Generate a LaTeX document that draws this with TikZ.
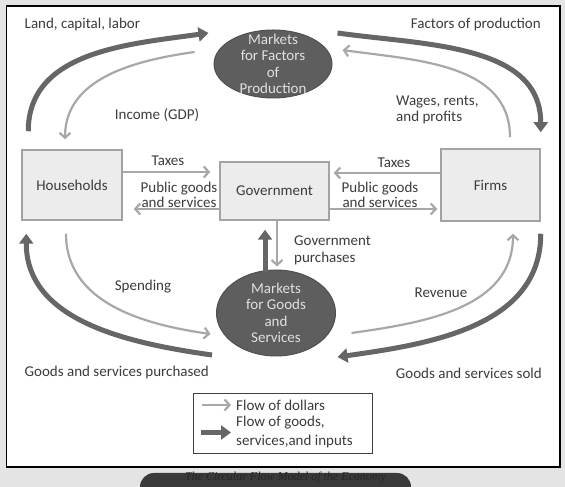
\documentclass[tikz,border=0pt]{standalone}
\usepackage{fontspec}
\setmainfont{Carlito}
\newfontfamily\bildtitel{Liberation Serif}
\usepackage{tikz}
\usetikzlibrary{arrows.meta,shapes.geometric}
\definecolor{textgrau}{HTML}{3C3C3C}
\definecolor{dollargrau}{HTML}{A8A8A8}
\definecolor{gutgrau}{HTML}{666666}
\definecolor{marktgrau}{HTML}{5E5E5E}
\definecolor{boxgrau}{HTML}{ECECEC}
\definecolor{randgrau}{HTML}{A3A3A3}
\definecolor{hintergrund}{HTML}{E4E4E4}
\definecolor{leiste}{HTML}{3A3A3A}
\tikzset{
  sector/.style={rectangle, draw=randgrau, line width=1.5pt, fill=boxgrau, text=textgrau, font=\fontsize{15}{16}\selectfont, minimum width=100pt, minimum height=70pt, inner sep=0pt},
  market/.style={ellipse, draw=marktgrau!85!black, line width=1pt, fill=marktgrau, minimum width=118pt, minimum height=68pt, inner sep=0pt},
  markettext/.style={text=white!88!black, align=center, font=\fontsize{15}{16.5}\selectfont, inner sep=0pt},
  lbl/.style={text=textgrau, font=\fontsize{15}{16}\selectfont, inner sep=0pt},
  dollarflow/.style={draw=dollargrau, line width=2.2pt, -{Straight Barb[length=5pt,width=11pt]}},
  goodsflow/.style={draw=gutgrau, line width=5pt, -{Triangle[length=10pt,width=14pt]}},
}

\begin{document}
\begin{tikzpicture}[x=1pt, y=1pt]
\useasboundingbox (0,0) rectangle (565,487);
\fill[hintergrund] (0,0) rectangle (565,487);
\draw[black, line width=1.5pt, fill=white] (6.5,481) rectangle (560,20);
\begin{scope}
\clip (0,0) rectangle (565,487);
\fill[leiste, rounded corners=14pt] (140,14) rectangle (411,-30);
\end{scope}
\node[text=black!85, font=\bildtitel\itshape\fontsize{12}{12}\selectfont, inner sep=0pt] (titel) at (285.5,9) {The Circular Flow Model of the Economy};

\node[sector] (hh) at (72,302) {Households};
\node[sector, minimum width=109pt, minimum height=58pt] (gov) at (274.5,296) {Government};
\node[sector, minimum width=99pt, minimum height=72pt] (firms) at (490.5,302) {Firms};

\node[market, label={[markettext]center:{Markets\\for Factors\\of\\Production}}] (mfp) at (273,423) {};
\node[market, minimum width=119pt, minimum height=86pt, label={[markettext]center:{Markets\\for Goods\\and\\Services}}] (mgs) at (276,174) {};

\node[lbl, anchor=west] (lcl) at (24.5,462) {Land, capital, labor};
\node[lbl, anchor=east] (fop) at (541,462) {Factors of production};
\node[lbl] (inc) at (157,372) {Income (GDP)};
\node[lbl, anchor=west, align=left] (wrp) at (396,377) {Wages, rents,\\and profits};
\node[lbl] (tx1) at (168,326) {Taxes};
\node[lbl, align=center, font=\fontsize{15}{15}\selectfont] (pg1) at (179,292.5) {Public goods\\and services};
\node[lbl] (tx2) at (394,324) {Taxes};
\node[lbl, align=center, font=\fontsize{15}{15}\selectfont] (pg2) at (380,292.5) {Public goods\\and services};
\node[lbl, anchor=west, align=left, font=\fontsize{15}{17}\selectfont] (gp) at (294,236.5) {Government\\purchases};
\node[lbl] (spd) at (143,200) {Spending};
\node[lbl] (rev) at (441,194) {Revenue};
\node[lbl, anchor=west] (gsp) at (24.5,114) {Goods and services purchased};
\node[lbl, anchor=east] (gss) at (542,114) {Goods and services sold};

\node[draw=black!75, line width=0.8pt, fill=white, minimum width=178.5pt, minimum height=60pt, inner sep=0pt] (legend) at (283,64) {};
\node[lbl, anchor=west] (ldol) at (236,82) {Flow of dollars};
\node[lbl, anchor=west, align=left, font=\fontsize{15}{19}\selectfont] (lgds) at (236,54.5) {Flow of goods,\\services,and inputs};
\draw[dollarflow] ([xshift=-34pt]ldol.west) -- ([xshift=-5pt]ldol.west);
\draw[goodsflow] ([xshift=-35pt]lgds.west) -- ([xshift=-5pt]lgds.west);

\draw[goodsflow] ([shift={(7,18)}]hh.north west) to[out=90,in=188] ([shift={(-5,31)}]mfp.west);
\draw[dollarflow] ([shift={(-19,12)}]mfp.west) to[out=188,in=90] ([shift={(-7,10)}]hh.north);
\draw[goodsflow] ([shift={(5,31)}]mfp.east) to[out=-8,in=90] ([shift={(0,16)}]firms.north east);
\draw[dollarflow] ([shift={(19.5,11)}]firms.north) to[out=90,in=-8] ([shift={(10,14)}]mfp.east);

\draw[goodsflow] ([shift={(-4,-42)}]mgs.west) to[out=172,in=-90] ([shift={(5,-13)}]hh.south west);
\draw[dollarflow] ([shift={(-6,-13)}]hh.south) to[out=-90,in=172] ([shift={(-5.5,-21)}]mgs.west);
\draw[dollarflow] ([shift={(15.5,-20)}]mgs.east) to[out=8,in=-90] ([shift={(22.5,-12)}]firms.south);
\draw[goodsflow] ([shift={(0,-12)}]firms.south east) to[out=-90,in=8] ([shift={(1.5,-44)}]mgs.east);

\draw[dollarflow] ([yshift=13]hh.east) -- ([shift={(-9,19)}]gov.west);
\draw[dollarflow] ([yshift=-18]gov.west) -- ([shift={(11,-24)}]hh.east);
\draw[dollarflow] ([yshift=12]firms.west) -- ([shift={(4,18)}]gov.east);
\draw[dollarflow] ([yshift=-18]gov.east) -- ([shift={(-3,-24)}]firms.west);
\draw[dollarflow] ([xshift=2.5]gov.south) -- ([shift={(1,3)}]mgs.north);
\draw[goodsflow] ([shift={(-11,-3)}]mgs.north) -- ([shift={(-9.5,-9)}]gov.south);
\end{tikzpicture}
\end{document}
